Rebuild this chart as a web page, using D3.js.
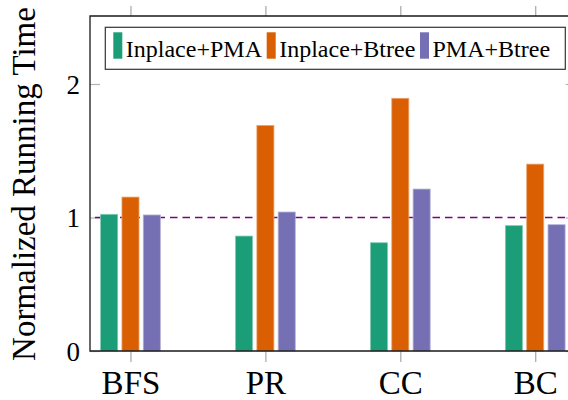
<!DOCTYPE html>
<html>
<head>
<meta charset="utf-8">
<script src="https://cdn.jsdelivr.net/npm/d3@7"></script>
<style>
  body { margin: 0; background: #fff; }
</style>
</head>
<body>
<script>
const width = 568
const height = 400
const serif = '"Liberation Serif"'

// data
const categories = ['BFS', 'PR', 'CC', 'BC']
const series = ['Inplace+PMA', 'Inplace+Btree', 'PMA+Btree']
const inplacePMA = [1.024, 0.861, 0.811, 0.939]
const inplaceBtree = [1.153, 1.690, 1.893, 1.400]
const pmaBtree = [1.019, 1.041, 1.213, 0.946]
const yTicks = [0, 1, 2]
const colors = ['#1b9e77', '#d95f02', '#7570b3']

const values = [inplacePMA, inplaceBtree, pmaBtree]

// plot box
const plotLeft = 90, plotRight = 575.7, plotTop = 16, plotBottom = 351

const svg = d3.select('body').append('svg')
    .attr('width', width)
    .attr('height', height)

const x = d3.scalePoint()
    .domain(categories)
    .range([plotLeft, plotRight])
    .padding(0.3)

const xInner = d3.scaleBand()
    .domain(series)
    .range([-32, 32])
    .paddingInner(0.2)
    .paddingOuter(0.1)

const y = d3.scaleLinear()
    .domain([0, 2.5])
    .range([plotBottom, plotTop + 1.25])

// y ticks (gray, inside, both sides)
const yAxisL = d3.axisLeft(y).tickValues(yTicks).tickSize(-10).tickFormat(d3.format('d')).tickPadding(10)
const gyL = svg.append('g').attr('transform', `translate(${plotLeft},0)`).call(yAxisL)
    .attr('font-family', null)
gyL.select('.domain').remove()
gyL.selectAll('line').attr('stroke', '#b3b3b3').attr('stroke-width', 1.2)
gyL.selectAll('text').style('font-size', '27px').attr('dy', '0.34em').attr('fill', '#000')
    .style('font-family', serif)

const gyR = svg.append('g').attr('transform', `translate(${plotRight},0)`)
    .call(d3.axisRight(y).tickValues(yTicks).tickSize(-10).tickFormat(''))
gyR.select('.domain').remove()
gyR.selectAll('line').attr('stroke', '#b3b3b3').attr('stroke-width', 1.2)

// x ticks (gray, outward, bottom and top)
const gxB = svg.append('g').attr('transform', `translate(0,${plotBottom})`)
    .call(d3.axisBottom(x).tickSize(11).tickPadding(9))
    .attr('font-family', null)
gxB.select('.domain').remove()
gxB.selectAll('line').attr('stroke', '#a6a6a6').attr('stroke-width', 1.2)
gxB.selectAll('text').style('font-size', '33px').attr('fill', '#000')
    .style('font-family', serif)

const gxT = svg.append('g').attr('transform', `translate(0,${plotTop})`)
    .call(d3.axisTop(x).tickSize(10).tickFormat(''))
gxT.select('.domain').remove()
gxT.selectAll('line').attr('stroke', '#a6a6a6').attr('stroke-width', 1.2)

// reference line at 1
svg.append('line')
    .attr('x1', plotLeft).attr('x2', plotRight)
    .attr('y1', y(1)).attr('y2', y(1))
    .style('stroke', '#800080')
    .style('stroke-width', 1.3)
    .style('stroke-dasharray', '7.5,5')
    .style('stroke-dashoffset', 7.5)

// bars
series.forEach((s, i) => {
    svg.append('g').selectAll('rect')
        .data(categories)
        .join('rect')
        .attr('x', (c) => x(c) + xInner(s))
        .attr('width', xInner.bandwidth())
        .attr('y', (c, j) => y(values[i][j]))
        .attr('height', (c, j) => y(0) - y(values[i][j]))
        .style('fill', colors[i])
        .style('stroke', d3.interpolateRgb(colors[i], '#fff')(0.45))
        .style('stroke-width', 0.8)
})

// frame
svg.append('path')
    .attr('d', `M${plotRight},${plotTop}H${plotLeft}V${plotBottom}H${plotRight}`)
    .style('fill', 'none')
    .style('stroke', '#1a1a1a')
    .style('stroke-width', 1.3)

// legend
const legend = svg.append('g')
legend.append('rect')
    .attr('x', 105.3).attr('y', 27.3)
    .attr('width', 460).attr('height', 42)
    .style('fill', '#fff')
    .style('stroke', '#333')
    .style('stroke-width', 1.2)

const legendX = [113.3, 266.7, 420]
series.forEach((s, i) => {
    legend.append('rect')
        .attr('x', legendX[i]).attr('y', 32.3)
        .attr('width', 9).attr('height', 26.4)
        .style('fill', colors[i])
    legend.append('text')
        .attr('x', legendX[i] + 12.5).attr('y', 57.3)
        .style('font-family', serif)
        .style('font-size', '24px')
        .text(s)
})

// y label
svg.append('text')
    .attr('transform', 'translate(35,184) rotate(-90)')
    .attr('text-anchor', 'middle')
    .style('font-family', serif)
    .style('font-size', '33px')
    .text('Normalized Running Time')
</script>
</body>
</html>
